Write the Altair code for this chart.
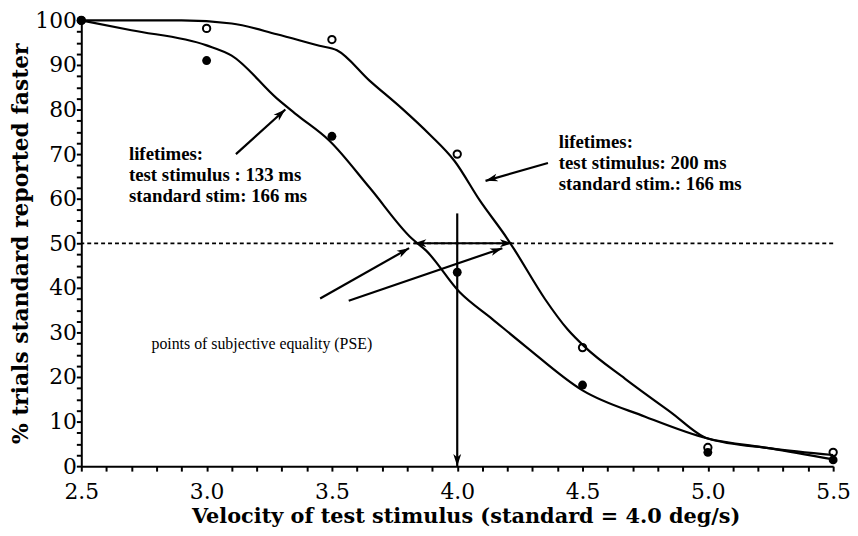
import math
import altair as alt
import pandas as pd

# ---- data ----
velocity = [2.5, 3.0, 3.5, 4.0, 4.5, 5.0, 5.5]
pct_open_200 = [100, 98.2, 95.7, 70.0, 26.6, 4.2, 3.1]     # test 200 ms (open circles)
pct_filled_133 = [100, 91.0, 74.0, 43.5, 18.2, 3.1, 1.4]   # test 133 ms (filled circles)

curve200_x = [2.5, 2.9, 3.1, 3.28, 3.45, 3.52, 3.65, 3.78, 3.89, 3.99, 4.09, 4.2, 4.23, 4.35, 4.44, 4.51, 4.67, 4.85, 5.0, 5.25, 5.5]
curve200_y = [100, 100, 99.3, 96.9, 94.3, 93.3, 86.5, 80.2, 74.4, 68.4, 59.6, 51, 48.4, 37.5, 30.7, 26.7, 19.6, 12.2, 6.2, 4.0, 2.5]

curve133_x = [2.5, 2.7, 3.0, 3.1, 3.28, 3.36, 3.49, 3.65, 3.82, 3.875, 4.01, 4.14, 4.27, 4.5, 4.75, 5.0, 5.25, 5.5]
curve133_y = [100, 97.8, 94.4, 92.1, 82.5, 78.8, 73.0, 62.5, 51.0, 48.4, 39.0, 33.0, 27.0, 17.0, 11.1, 6.2, 4.0, 1.5]

pse_level = [50]

# arrows: tail (x0,y0) -> head (x1,y1)
arrow_x0 = [3.117, 4.362, 3.453, 3.567, 4.0, 4.0, 4.0]
arrow_y0 = [70.0, 68.0, 37.6, 37.1, 50.0, 50.0, 56.7]
arrow_x1 = [3.314, 4.113, 3.808, 4.180, 3.828, 4.219, 4.0]
arrow_y1 = [80.0, 64.0, 48.9, 48.9, 50.0, 50.0, 0.0]

lifetime_x = [2.69, 4.405]
lifetime_y = [70.0, 72.7]
lifetime_text = [
    "lifetimes:\ntest stimulus : 133 ms\nstandard stim: 166 ms",
    "lifetimes:\ntest stimulus: 200 ms\nstandard stim.: 166 ms",
]
pse_x = [2.78]
pse_y = [27.3]
pse_text = ["points of subjective equality (PSE)"]

x_ticks = [round(2.5 + 0.1 * i, 1) for i in range(31)]
y_ticks = [2.5 * i for i in range(41)]

# ---- layout ----
W, H = 759, 450
XMIN, XMAX, YMIN, YMAX = 2.5, 5.5, 0, 100
px_x = W / (XMAX - XMIN)
px_y = H / (YMAX - YMIN)

AXFONT = "DejaVu Serif"
SERIF = "Liberation Serif"

curves = pd.concat([
    pd.DataFrame({"v": curve200_x, "p": curve200_y, "s": "200"}),
    pd.DataFrame({"v": curve133_x, "p": curve133_y, "s": "133"}),
])
pts = pd.DataFrame({"v": velocity, "open": pct_open_200, "filled": pct_filled_133})

angles = []
for x0, y0, x1, y1 in zip(arrow_x0, arrow_y0, arrow_x1, arrow_y1):
    dx = (x1 - x0) * px_x
    dy = -(y1 - y0) * px_y
    angles.append(math.degrees(math.atan2(dx, -dy)) % 360)
arrows = pd.DataFrame({"x0": arrow_x0, "y0": arrow_y0, "x1": arrow_x1, "y1": arrow_y1, "ang": angles})
notes1 = pd.DataFrame({"x": lifetime_x, "y": lifetime_y, "t": lifetime_text})
notes2 = pd.DataFrame({"x": pse_x, "y": pse_y, "t": pse_text})

xs = alt.Scale(domain=[XMIN, XMAX], nice=False, zero=False)
ys = alt.Scale(domain=[YMIN, YMAX], nice=False, zero=False)

x_axis = alt.Axis(
    values=x_ticks,
    labelExpr="abs(datum.value*2 - round(datum.value*2)) < 0.001 ? format(datum.value, '.1f') : ''",
    grid=False, ticks=True, tickSize=5, tickWidth=2, tickColor="black",
    domainColor="black", domainWidth=2,
    labelFont=AXFONT, labelFontSize=22, labelColor="black", labelPadding=11,
    labelFlush=False, labelOverlap=False,
    title="Velocity of test stimulus (standard = 4.0 deg/s)",
    titleFont=AXFONT, titleFontSize=21, titleFontWeight="bold", titleColor="black",
    titlePadding=3, titleX=388,
)
y_axis = alt.Axis(
    values=y_ticks,
    labelExpr="abs(datum.value/10 - round(datum.value/10)) < 0.001 ? format(datum.value, 'd') : ''",
    grid=False, ticks=True, tickSize=5, tickWidth=2, tickColor="black",
    domainColor="black", domainWidth=2,
    labelFont=AXFONT, labelFontSize=22, labelColor="black", labelPadding=0,
    labelFlush=False, labelOverlap=False,
    title="% trials standard reported faster",
    titleFont=AXFONT, titleFontSize=22, titleFontWeight="bold", titleColor="black",
    titlePadding=2,
)


def X(field):
    return alt.X(field, scale=xs, axis=x_axis)


def Y(field):
    return alt.Y(field, scale=ys, axis=y_axis)


lines = alt.Chart(curves).mark_line(color="black", strokeWidth=2.2, interpolate="monotone").encode(
    x=X("v:Q"), y=Y("p:Q"), detail="s:N",
)

dash = alt.Chart(pd.DataFrame({"p": pse_level})).mark_rule(
    color="black", strokeWidth=1.8, strokeDash=[4, 3]
).encode(y=Y("p:Q"))

filled = alt.Chart(pts).mark_point(
    filled=True, color="black", size=80, opacity=1
).encode(x=X("v:Q"), y=Y("filled:Q"))

opened = alt.Chart(pts).mark_point(
    filled=False, color="black", size=55, strokeWidth=2, opacity=1
).encode(x=X("v:Q"), y=Y("open:Q"))

shafts = alt.Chart(arrows).mark_rule(color="black", strokeWidth=2.2).encode(
    x=X("x0:Q"), y=Y("y0:Q"), x2="x1:Q", y2="y1:Q",
)

heads = alt.Chart(arrows).mark_point(
    shape="M0,0 L-0.55,1.7 L0,1.25 L0.55,1.7 Z",
    filled=True, color="black", size=210, opacity=1,
).encode(
    x=X("x1:Q"), y=Y("y1:Q"),
    angle=alt.Angle("ang:Q", scale=None),
)

text1 = alt.Chart(notes1).mark_text(
    align="left", baseline="middle", lineBreak="\n", lineHeight=21,
    font=SERIF, fontSize=19, fontWeight="bold", color="black",
).encode(x=X("x:Q"), y=Y("y:Q"), text="t:N")

text2 = alt.Chart(notes2).mark_text(
    align="left", baseline="middle",
    font=SERIF, fontSize=16, color="black",
).encode(x=X("x:Q"), y=Y("y:Q"), text="t:N")

chart = alt.layer(lines, dash, shafts, heads, filled, opened, text1, text2).properties(
    width=W, height=H,
    autosize=alt.AutoSizeParams(type="none"),
    padding={"left": 74, "top": 10, "right": 17, "bottom": 68},
    background="white",
).configure_view(stroke=None)

chart.save("out.html", embed_options={"renderer": "svg", "actions": False})
